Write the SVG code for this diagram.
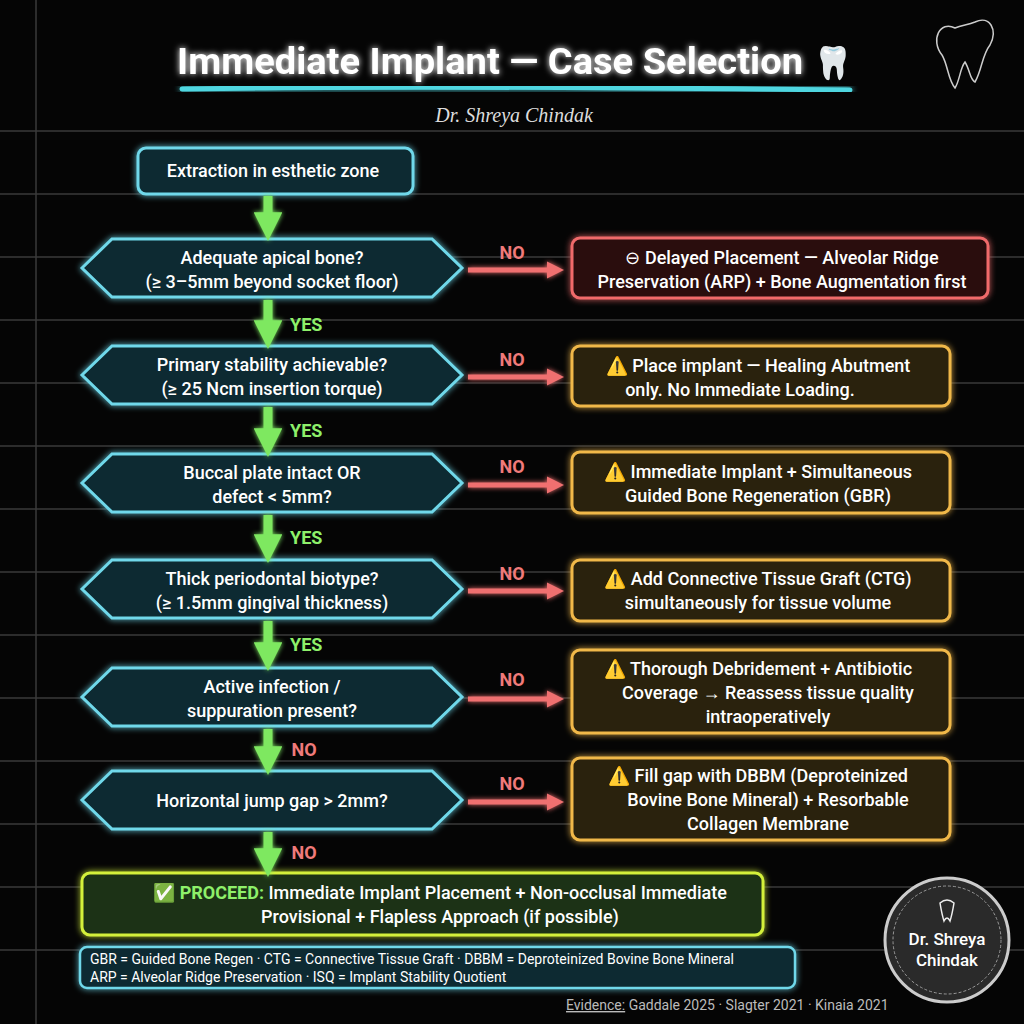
<svg xmlns="http://www.w3.org/2000/svg" width="1024" height="1024" viewBox="0 0 1024 1024">
<defs>
<filter id="glow" x="-20%" y="-40%" width="140%" height="180%"><feGaussianBlur stdDeviation="3" result="b"/><feMerge><feMergeNode in="b"/><feMergeNode in="SourceGraphic"/></feMerge></filter>
<filter id="lglow" filterUnits="userSpaceOnUse" x="0" y="0" width="1024" height="1024"><feGaussianBlur stdDeviation="2.5" result="b"/><feMerge><feMergeNode in="b"/><feMergeNode in="SourceGraphic"/></feMerge></filter>
<marker id="ga" viewBox="0 0 10 10" refX="2" refY="5" markerWidth="3.2" markerHeight="3.2" orient="auto" markerUnits="strokeWidth"><path d="M0,0 L10,5 L0,10 Z" fill="#7ee860"/></marker>
<marker id="ra" viewBox="0 0 10 10" refX="2" refY="5" markerWidth="3.5" markerHeight="3.5" orient="auto" markerUnits="strokeWidth"><path d="M0,0 L10,5 L0,10 Z" fill="#f07070"/></marker>
</defs>
<style>
text{font-family:Roboto,"Liberation Sans",sans-serif;fill:#fff;font-weight:500}
.t{font-size:18px;text-anchor:middle}
.dia{fill:#0d2a30;stroke:#6fd8ea;stroke-width:3;filter:url(#glow)}
.warn{fill:#2a2008;stroke:#f0b84a;stroke-width:3;filter:url(#glow)}
.bad{fill:#2a0e10;stroke:#f06a6a;stroke-width:3;filter:url(#glow)}
.g{stroke:#7ee860;stroke-width:9;marker-end:url(#ga);filter:url(#lglow)}
.r{stroke:#f07070;stroke-width:5;marker-end:url(#ra);filter:url(#lglow)}
.yes{fill:#8ef06a;font-size:18px;font-weight:700}
.no{fill:#f07a7a;font-size:18px;font-weight:700;text-anchor:middle}
.grid{stroke:#3a3a3a;stroke-width:1.5}
</style>
<rect width="1024" height="1024" fill="#050505"/>
<g id="grid">
<line class="grid" x1="0" y1="131" x2="1024" y2="131"/><line class="grid" x1="0" y1="194" x2="1024" y2="194"/>
<line class="grid" x1="0" y1="257" x2="1024" y2="257"/><line class="grid" x1="0" y1="320" x2="1024" y2="320"/>
<line class="grid" x1="0" y1="383" x2="1024" y2="383"/><line class="grid" x1="0" y1="446" x2="1024" y2="446"/>
<line class="grid" x1="0" y1="509" x2="1024" y2="509"/><line class="grid" x1="0" y1="572" x2="1024" y2="572"/>
<line class="grid" x1="0" y1="635" x2="1024" y2="635"/><line class="grid" x1="0" y1="698" x2="1024" y2="698"/>
<line class="grid" x1="0" y1="761" x2="1024" y2="761"/><line class="grid" x1="0" y1="824" x2="1024" y2="824"/>
<line class="grid" x1="0" y1="887" x2="1024" y2="887"/><line class="grid" x1="0" y1="950" x2="1024" y2="950"/>
<line class="grid" x1="36" y1="0" x2="36" y2="1024"/>
</g>
<g id="title">
<text x="490" y="74" font-size="36" text-anchor="middle" textLength="626" lengthAdjust="spacingAndGlyphs" filter="url(#glow)" style="font-weight:700">Immediate Implant — Case Selection</text>
<text x="833" y="74" font-size="32" text-anchor="middle">🦷</text>
<path d="M182,89 Q400,85 850,90" stroke="#4fd6e0" stroke-width="5" fill="none" stroke-linecap="round" filter="url(#glow)"/>
<text x="514" y="122" font-size="20" font-style="italic" text-anchor="middle" style="font-family:'Liberation Serif',serif;font-weight:400;fill:#ddd">Dr. Shreya Chindak</text>
<path d="M955,28 C940,20 930,40 942,55 C948,65 948,80 955,88 C960,80 960,68 965,62 C970,70 970,80 975,82 C982,70 982,55 990,45 C998,30 990,15 975,22 C968,25 962,25 955,28 Z" fill="none" stroke="#ccc" stroke-width="1.5"/>
</g>
<g id="start">
<rect x="138" y="148" width="275" height="46" rx="8" class="dia"/>
<text class="t" x="273" y="177">Extraction in esthetic zone</text>
</g>
<g id="d1"><polygon class="dia" points="82,268 112,239 432,239 462,268 432,297 112,297"/>
<text class="t" x="272" y="264">Adequate apical bone?</text><text class="t" x="272" y="288">(≥ 3–5mm beyond socket floor)</text></g>
<g id="d2"><polygon class="dia" points="82,375 112,346 432,346 462,375 432,404 112,404"/>
<text class="t" x="272" y="371">Primary stability achievable?</text><text class="t" x="272" y="395">(≥ 25 Ncm insertion torque)</text></g>
<g id="d3"><polygon class="dia" points="82,483 112,454 432,454 462,483 432,512 112,512"/>
<text class="t" x="272" y="479">Buccal plate intact OR</text><text class="t" x="272" y="503">defect &lt; 5mm?</text></g>
<g id="d4"><polygon class="dia" points="82,589 112,560 432,560 462,589 432,618 112,618"/>
<text class="t" x="272" y="585">Thick periodontal biotype?</text><text class="t" x="272" y="609">(≥ 1.5mm gingival thickness)</text></g>
<g id="d5"><polygon class="dia" points="82,697 112,668 432,668 462,697 432,726 112,726"/>
<text class="t" x="272" y="693">Active infection /</text><text class="t" x="272" y="717">suppuration present?</text></g>
<g id="d6"><polygon class="dia" points="82,800 112,771 432,771 462,800 432,829 112,829"/>
<text class="t" x="272" y="807">Horizontal jump gap &gt; 2mm?</text></g>
<g id="o1"><rect class="bad" x="572" y="238" width="416" height="60" rx="8"/>
<text class="t" x="782" y="264">⊖ Delayed Placement — Alveolar Ridge</text><text class="t" x="782" y="288">Preservation (ARP) + Bone Augmentation first</text></g>
<g id="o2"><rect class="warn" x="572" y="346" width="378" height="60" rx="8"/>
<text class="t" x="758" y="372">⚠️ Place implant — Healing Abutment</text><text class="t" x="740" y="396">only. No Immediate Loading.</text></g>
<g id="o3"><rect class="warn" x="572" y="452" width="378" height="61" rx="8"/>
<text class="t" x="758" y="478">⚠️ Immediate Implant + Simultaneous</text><text class="t" x="758" y="502">Guided Bone Regeneration (GBR)</text></g>
<g id="o4"><rect class="warn" x="572" y="560" width="378" height="61" rx="8"/>
<text class="t" x="758" y="585">⚠️ Add Connective Tissue Graft (CTG)</text><text class="t" x="758" y="609">simultaneously for tissue volume</text></g>
<g id="o5"><rect class="warn" x="572" y="650" width="378" height="83" rx="8"/>
<text class="t" x="758" y="675">⚠️ Thorough Debridement + Antibiotic</text><text class="t" x="768" y="699">Coverage → Reassess tissue quality</text><text class="t" x="768" y="723">intraoperatively</text></g>
<g id="o6"><rect class="warn" x="572" y="758" width="378" height="82" rx="8"/>
<text class="t" x="758" y="782">⚠️ Fill gap with DBBM (Deproteinized</text><text class="t" x="768" y="806">Bovine Bone Mineral) + Resorbable</text><text class="t" x="768" y="830">Collagen Membrane</text></g>
<g id="proceed"><rect x="82" y="873" width="681" height="62" rx="8" fill="#1c3312" stroke="#d4f03a" stroke-width="3" filter="url(#glow)"/>
<text class="t" x="440" y="899">✅ <tspan style="fill:#8ef06a;font-weight:700">PROCEED:</tspan> Immediate Implant Placement + Non-occlusal Immediate</text>
<text class="t" x="440" y="923">Provisional + Flapless Approach (if possible)</text></g>
<g id="legend"><rect x="80" y="947" width="715" height="41" rx="7" fill="#0d2a30" stroke="#6fd8ea" stroke-width="2.5" filter="url(#glow)"/>
<text x="90" y="964" font-size="14" style="font-weight:400">GBR = Guided Bone Regen · CTG = Connective Tissue Graft · DBBM = Deproteinized Bovine Bone Mineral</text>
<text x="90" y="982" font-size="14" style="font-weight:400">ARP = Alveolar Ridge Preservation · ISQ = Implant Stability Quotient</text></g>
<text x="566" y="1010" font-size="14" style="fill:#bbb;font-weight:400"><tspan text-decoration="underline">Evidence:</tspan> Gaddale 2025 · Slagter 2021 · Kinaia 2021</text>
<g id="badge"><circle cx="947" cy="940" r="62" fill="#2a2a2a" stroke="#ccc" stroke-width="3"/><circle cx="947" cy="940" r="54" fill="none" stroke="#999" stroke-width="1" stroke-dasharray="3 2"/>
<text x="947" y="945" font-size="17" text-anchor="middle">Dr. Shreya</text><text x="947" y="966" font-size="17" text-anchor="middle">Chindak</text>
<path d="M940,903 q7,-6 14,0 q-2,12 -4,18 q-3,-6 -6,0 q-2,-6 -4,-18z" fill="none" stroke="#eee" stroke-width="1.5"/></g>
<g id="connectors" fill="none">
<line class="g" x1="268" y1="196" x2="268" y2="218"/>
<line class="g" x1="268" y1="300" x2="268" y2="326"/>
<line class="g" x1="268" y1="407" x2="268" y2="434"/>
<line class="g" x1="268" y1="515" x2="268" y2="540"/>
<line class="g" x1="268" y1="621" x2="268" y2="648"/>
<line class="g" x1="268" y1="729" x2="268" y2="752"/>
<line class="g" x1="268" y1="832" x2="268" y2="854"/>
<line class="r" x1="468" y1="270" x2="550" y2="270"/>
<line class="r" x1="468" y1="377" x2="550" y2="377"/>
<line class="r" x1="468" y1="485" x2="550" y2="485"/>
<line class="r" x1="468" y1="591" x2="550" y2="591"/>
<line class="r" x1="468" y1="699" x2="550" y2="699"/>
<line class="r" x1="468" y1="802" x2="550" y2="802"/>
<text class="yes" x="290" y="331">YES</text><text class="yes" x="290" y="437">YES</text><text class="yes" x="290" y="544">YES</text><text class="yes" x="290" y="651">YES</text>
<text class="no" x="304" y="756">NO</text><text class="no" x="304" y="859">NO</text>
<text class="no" x="512" y="259">NO</text><text class="no" x="512" y="366">NO</text><text class="no" x="512" y="473">NO</text><text class="no" x="512" y="580">NO</text><text class="no" x="512" y="686">NO</text><text class="no" x="512" y="790">NO</text>
</g>
</svg>
